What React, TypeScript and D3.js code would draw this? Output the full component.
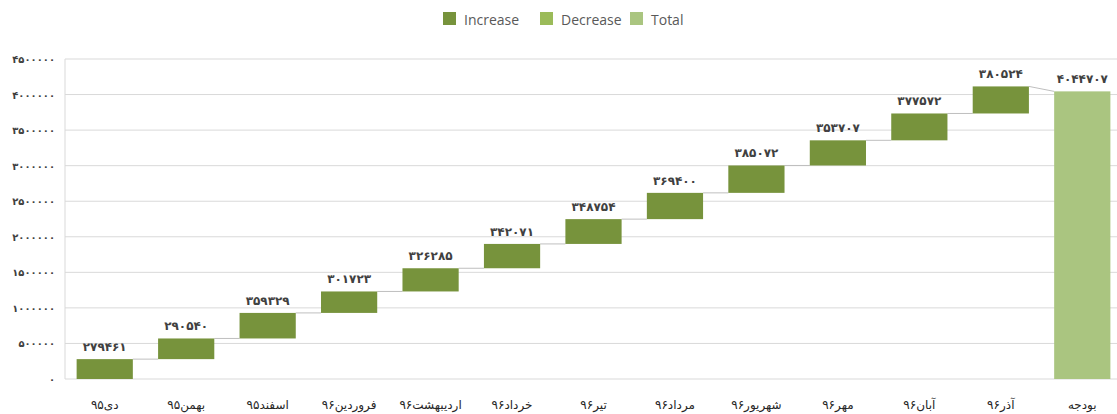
import React from "react";
import * as d3 from "d3";

const categories = ["دی۹۵", "بهمن۹۵", "اسفند۹۵", "فروردین۹۶", "اردیبهشت۹۶", "خرداد۹۶", "تیر۹۶", "مرداد۹۶", "شهریور۹۶", "مهر۹۶", "آبان۹۶", "آذر۹۶", "بودجه"];
const changes = [279461, 290540, 359329, 301723, 326285, 342071, 348754, 369400, 385072, 353707, 377572, 380524];
const totalValue = 4044707;
const yTicks = [0, 500000, 1000000, 1500000, 2000000, 2500000, 3000000, 3500000, 4000000, 4500000];
const legendItems = ["Increase", "Decrease", "Total"];

const COLORS: Record<string, string> = { Increase: "#77933C", Decrease: "#9BBB59", Total: "#AAC580" };
const fa = (n: number) => String(n).replace(/\d/g, (d) => "۰۱۲۳۴۵۶۷۸۹"[+d]);

export default function App() {
  const W = 1117, H = 414;
  const left = 65, top = 59, bottom = 379, right = 1123;
  const y = d3.scaleLinear().domain([0, 4500000]).range([bottom, top]);
  const x = d3.scaleBand<string>().domain(categories).range([64, right]).paddingInner(0.31).paddingOuter(0.155);
  const bw = x.bandwidth();

  type Bar = { cat: string; start: number; end: number; value: number; kind: string };
  const bars: Bar[] = [];
  let cum = 0;
  changes.forEach((v, i) => {
    bars.push({ cat: categories[i], start: cum, end: cum + v, value: v, kind: v >= 0 ? "Increase" : "Decrease" });
    cum += v;
  });
  bars.push({ cat: categories[categories.length - 1], start: 0, end: totalValue, value: totalValue, kind: "Total" });

  const legendX = [443, 540, 630];

  return (
    <svg width={W} height={H} style={{ position: "absolute", left: 0, top: 0, background: "#fff" }}>
      {yTicks.map((t) => (
        <line key={t} x1={left} x2={W} y1={y(t)} y2={y(t)} stroke="#D9D9D9" strokeWidth={1} />
      ))}
      <line x1={left} x2={left} y1={top} y2={bottom} stroke="#D9D9D9" />
      {yTicks.map((t) => (
        <text key={"l" + t} x={55} y={y(t) + 4} textAnchor="end" fontFamily="DejaVu Sans" fontSize={10} fontWeight="bold" fill="#404040">
          {fa(t)}
        </text>
      ))}
      {bars.slice(0, -1).map((b, i) => {
        const next = bars[i + 1];
        const yy = y(b.kind === "Increase" ? b.end : b.start);
        const ny = next.kind === "Total" ? y(next.end) : yy;
        return (
          <line key={"c" + i} x1={(x(b.cat) as number) + bw} x2={x(next.cat) as number} y1={yy} y2={ny} stroke="#BFBFBF" strokeWidth={1} />
        );
      })}
      {bars.map((b, i) => (
        <rect key={"b" + i} x={x(b.cat)} y={y(Math.max(b.start, b.end))} width={bw} height={Math.abs(y(b.start) - y(b.end))} fill={COLORS[b.kind]} />
      ))}
      {bars.map((b, i) => (
        <text key={"v" + i} x={(x(b.cat) as number) + bw / 2} y={y(Math.max(b.start, b.end)) - 8} textAnchor="middle" fontFamily="DejaVu Sans" fontSize={12} fontWeight="bold" fill="#404040">
          {fa(b.value)}
        </text>
      ))}
      {categories.map((c) => (
        <text key={"x" + c} x={(x(c) as number) + bw / 2} y={409} textAnchor="middle" direction="rtl" fontFamily="DejaVu Sans" fontSize={12} fill="#262626">
          {c}
        </text>
      ))}
      {legendItems.map((l, i) => (
        <g key={l}>
          <rect x={legendX[i]} y={12} width={13} height={13} fill={COLORS[l]} />
          <text x={legendX[i] + 21} y={25} fontFamily="Open Sans" fontSize={14} fill="#595959">
            {l}
          </text>
        </g>
      ))}
    </svg>
  );
}
